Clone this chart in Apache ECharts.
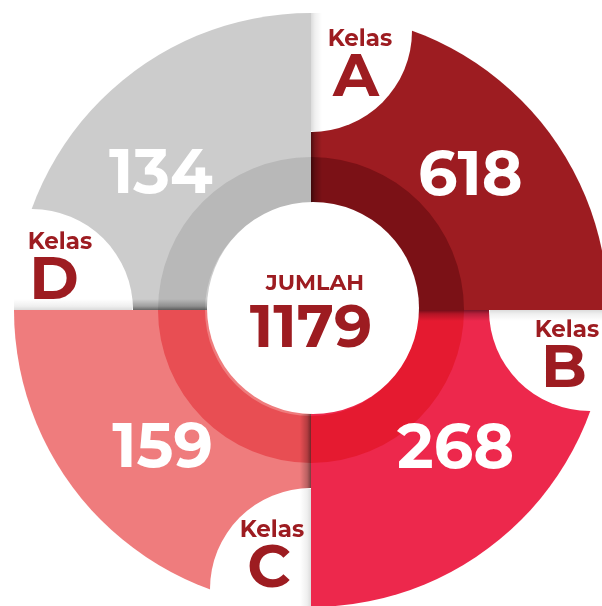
<!DOCTYPE html>
<html>
<head>
<meta charset="utf-8">
<script src="https://cdn.jsdelivr.net/npm/echarts@6/dist/echarts.min.js"></script>
<style>
html,body{margin:0;padding:0;background:#fff;}
#chart{width:602px;height:606px;}
</style>
</head>
<body>
<div id="chart"></div>
<script>
// ---- data ----
var categories = ['A', 'B', 'C', 'D'];
var classLabel = 'Kelas';
var values = [618, 268, 159, 134];
var totalLabel = 'JUMLAH';
var colors = ['#9d1c21', '#ed284c', '#ef7c7d', '#cccccc'];
var ringColors = ['#7b1116', '#e51a30', '#e84e53', '#b8b8b8'];
var textColor = '#9d1c21';

var total = values.reduce(function (a, b) { return a + b; }, 0);

var CX = 311, CY = 310;
var R = 297, RING = 153, HOLE = 106;
var NOTCH_D = 279, NOTCH_R = 101;
var SHADOW_W = 11;
var FONT = 'Montserrat, "Open Sans", Inter, sans-serif';

var chart = echarts.init(document.getElementById('chart'), null, {renderer: 'canvas'});

function edgeStrip(ang, r0, r1, alpha) {
  var dx = Math.cos(ang), dy = Math.sin(ang);
  var nx = Math.cos(ang + Math.PI / 2), ny = Math.sin(ang + Math.PI / 2);
  var p0 = [CX + r0 * dx, CY + r0 * dy];
  var p1 = [CX + r1 * dx, CY + r1 * dy];
  var pts = [p0, p1, [p1[0] + SHADOW_W * nx, p1[1] + SHADOW_W * ny], [p0[0] + SHADOW_W * nx, p0[1] + SHADOW_W * ny]];
  return {
    type: 'polygon',
    shape: {points: pts},
    style: {
      fill: new echarts.graphic.LinearGradient(
        p0[0], p0[1], p0[0] + SHADOW_W * nx, p0[1] + SHADOW_W * ny,
        [
          {offset: 0, color: 'rgba(0,0,0,' + alpha + ')'},
          {offset: 0.35, color: 'rgba(0,0,0,' + (alpha * 0.45) + ')'},
          {offset: 1, color: 'rgba(0,0,0,0)'}
        ], true)
    }
  };
}

function renderItem(params, api) {
  var i = params.dataIndex;
  var start = -Math.PI / 2 + i * Math.PI / 2;
  var end = start + Math.PI / 2;
  var nAng = start;
  var nx = CX + NOTCH_D * Math.cos(nAng);
  var ny = CY + NOTCH_D * Math.sin(nAng);
  var labAng = [-40, 44, 137, 222][i] * Math.PI / 180;
  var labR = [208, 201, 203, 202][i];
  var lx = CX + labR * Math.cos(labAng);
  var ly = CY + labR * Math.sin(labAng);
  var kOff = [[49, 8], [-23, 20], [-39, -59], [28, -68]][i];
  var lOff = [[45, 47], [-26, 59], [-42, -20], [22, -29]][i];
  return {
    type: 'group',
    children: [
      {
        type: 'sector',
        shape: {cx: CX, cy: CY, r0: 0, r: R, startAngle: start, endAngle: end},
        style: {fill: colors[i]}
      },
      {
        type: 'sector',
        shape: {cx: CX, cy: CY, r0: HOLE, r: RING, startAngle: start, endAngle: end},
        style: {fill: ringColors[i]}
      },
      edgeStrip(start, HOLE - 2, NOTCH_D - NOTCH_R + 1, 0.5),
      {
        type: 'sector',
        shape: {cx: nx, cy: ny, r0: 0, r: NOTCH_R, startAngle: nAng, endAngle: nAng + Math.PI},
        style: {fill: '#ffffff'}
      },
      edgeStrip(start, NOTCH_D - NOTCH_R + 1, R, 0.14),
      {
        type: 'text',
        style: {
          x: lx, y: ly, text: String(api.value(0)),
          fill: '#ffffff', font: '700 62px ' + FONT,
          align: 'center', verticalAlign: 'middle'
        }
      },
      {
        type: 'text',
        style: {
          x: nx + kOff[0], y: ny + kOff[1], text: classLabel,
          fill: textColor, font: '700 23px ' + FONT,
          align: 'center', verticalAlign: 'middle'
        }
      },
      {
        type: 'text',
        style: {
          x: nx + lOff[0], y: ny + lOff[1], text: categories[i],
          fill: textColor, font: '700 60px ' + FONT,
          align: 'center', verticalAlign: 'middle'
        }
      }
    ]
  };
}

chart.setOption({
  animation: false,
  backgroundColor: '#ffffff',
  series: [{
    type: 'custom',
    coordinateSystem: 'none',
    renderItem: renderItem,
    data: values.map(function (v, k) { return {name: categories[k], value: [v]}; })
  }],
  graphic: [
    {type: 'circle', z: 100, shape: {cx: CX + 2, cy: CY - 2, r: HOLE}, style: {fill: '#ffffff'}},
    {type: 'text', z: 101, style: {x: CX + 4, y: 284, text: totalLabel, fill: textColor, font: '700 22px ' + FONT, align: 'center', verticalAlign: 'middle'}},
    {type: 'text', z: 101, style: {x: CX, y: 329, text: String(total), fill: textColor, font: '700 60px ' + FONT, align: 'center', verticalAlign: 'middle'}}
  ]
});
</script>
</body>
</html>
